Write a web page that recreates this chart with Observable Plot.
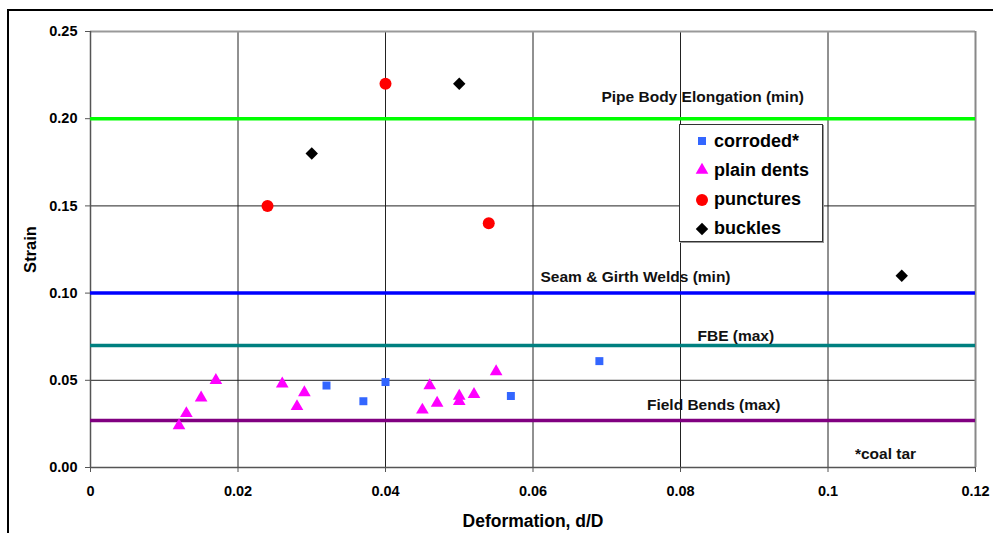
<!DOCTYPE html>
<html>
<head>
<meta charset="utf-8">
<script src="https://cdn.jsdelivr.net/npm/d3@7"></script>
<script src="https://cdn.jsdelivr.net/npm/@observablehq/plot@0.6"></script>
<style>
  html, body { margin: 0; padding: 0; background: #fff; }
  #wrap { position: relative; width: 993px; height: 533px; font-family: "Liberation Sans", Arial, sans-serif; }
  #frame { position: absolute; left: 7px; top: 9px; right: 0; bottom: 0; border-left: 2px solid #000; border-top: 2px solid #000; pointer-events: none; }
  #legend { position: absolute; left: 679px; top: 124px; width: 142px; height: 116px; border: 1px solid #333; background: #fff; box-shadow: 1px 1px 0 #999; }
  .item { position: absolute; left: 0; height: 24px; display: flex; align-items: center; font-weight: bold; font-size: 18px; color: #000; }
  .item svg { width: 16px; height: 16px; margin-left: 14px; margin-right: 4px; }
</style>
</head>
<body>
<div id="wrap">
  <div id="chart"></div>
  <div id="frame"></div>
  <div id="legend"></div>
</div>
<script>
// ---- data ----
const seriesNames = ["corroded*", "plain dents", "punctures", "buckles"];
const seriesColors = ["#3366FF", "#FF00FF", "#FF0000", "#000000"];
const seriesSymbols = ["square", "triangle", "circle", "diamond2"];

const corrodedX = [0.032, 0.037, 0.040, 0.057, 0.069];
const corrodedY = [0.047, 0.038, 0.049, 0.041, 0.061];

const dentsX = [0.012, 0.013, 0.015, 0.017, 0.026, 0.028, 0.029, 0.045, 0.046, 0.047, 0.050, 0.050, 0.052, 0.055];
const dentsY = [0.024, 0.031, 0.040, 0.050, 0.048, 0.035, 0.043, 0.033, 0.047, 0.037, 0.041, 0.038, 0.042, 0.055];

const puncturesX = [0.024, 0.040, 0.054];
const puncturesY = [0.150, 0.220, 0.140];

const bucklesX = [0.030, 0.050, 0.110];
const bucklesY = [0.180, 0.220, 0.110];

const limitNames = ["Pipe Body Elongation (min)", "Seam & Girth Welds (min)", "FBE (max)", "Field Bends (max)"];
const limitValues = [0.20, 0.10, 0.07, 0.027];
const limitColors = ["#00FF00", "#0000FF", "#008080", "#800080"];

const xTicks = [0, 0.02, 0.04, 0.06, 0.08, 0.1, 0.12];
const xTickLabels = ["0", "0.02", "0.04", "0.06", "0.08", "0.1", "0.12"];
const yTicks = [0, 0.05, 0.10, 0.15, 0.20, 0.25];
const yTickLabels = ["0.00", "0.05", "0.10", "0.15", "0.20", "0.25"];

const note = "*coal tar";
const xTitle = "Deformation, d/D";
const yTitle = "Strain";

// ---- build tables ----
const seriesX = [corrodedX, dentsX, puncturesX, bucklesX];
const seriesY = [corrodedY, dentsY, puncturesY, bucklesY];
const points = seriesNames.flatMap((name, i) =>
  seriesX[i].map((x, j) => ({series: name, x, y: seriesY[i][j], sym: seriesSymbols[i], color: seriesColors[i]})));
const limits = limitNames.map((name, i) => ({name, value: limitValues[i], color: limitColors[i]}));

// annotation anchors (data space)
const labelAnchors = [
  {text: limitNames[0], x: 0.083, y: 0.2125},
  {text: limitNames[1], x: 0.0739, y: 0.1095},
  {text: limitNames[2], x: 0.0875, y: 0.0752},
  {text: limitNames[3], x: 0.0845, y: 0.0356},
  {text: note, x: 0.1078, y: 0.0080}
];

const font = '"Liberation Sans", Arial, sans-serif';
const sizeBySym = {square: 4.5, triangle: 4.7, circle: 6, diamond2: 5.6};

const chart = Plot.plot({
  width: 993,
  height: 533,
  marginLeft: 90,
  marginRight: 18,
  marginTop: 31,
  marginBottom: 66,
  style: {fontFamily: font, background: "transparent", overflow: "visible"},
  x: {domain: [0, 0.12]},
  y: {domain: [0, 0.25]},
  r: {type: "identity"},
  marks: [
    Plot.gridX(xTicks.slice(1, -1), {stroke: "#222", strokeOpacity: 1, strokeWidth: 1}),
    Plot.gridY(yTicks.slice(1, -1), {stroke: "#222", strokeOpacity: 1, strokeWidth: 1}),
    Plot.ruleY([0.25], {stroke: "#999", strokeWidth: 2}),
    Plot.ruleX([0.12], {stroke: "#888", strokeWidth: 2}),
    Plot.ruleX([0], {stroke: "#555", strokeWidth: 1.5}),
    Plot.ruleY([0], {stroke: "#555", strokeWidth: 1.5}),
    Plot.axisX(xTicks, {
      tickFormat: (d, i) => xTickLabels[i],
      tickSize: 5, tickPadding: 13, stroke: "#555",
      fontSize: 14.5, fontWeight: "bold", fill: "#000", label: null
    }),
    Plot.axisY(yTicks, {
      tickFormat: (d, i) => yTickLabels[i],
      tickSize: 5, tickPadding: 8, stroke: "#555",
      fontSize: 14.5, fontWeight: "bold", fill: "#000", label: null
    }),
    Plot.ruleY(limits, {y: "value", stroke: "color", strokeWidth: 3.5}),
    Plot.text(labelAnchors, {x: "x", y: "y", text: "text", fontSize: 15.5, fontWeight: "bold", fill: "#111", textAnchor: "middle"}),
    Plot.dot(points, {
      x: "x", y: "y", symbol: "sym", fill: "color", stroke: "none",
      r: d => sizeBySym[d.sym]
    }),
    Plot.text([yTitle], {frameAnchor: "left", dx: -60, rotate: -90, fontSize: 16.5, fontWeight: "bold", fill: "#000", textAnchor: "middle"}),
    Plot.text([xTitle], {frameAnchor: "bottom", dy: 59, fontSize: 17.5, fontWeight: "bold", fill: "#000", textAnchor: "middle"})
  ]
});
document.getElementById("chart").appendChild(chart);

// legend
const legend = document.getElementById("legend");
const symPaths = seriesSymbols.map(s => {
  const sym = {square: d3.symbolSquare, triangle: d3.symbolTriangle, circle: d3.symbolCircle, diamond2: d3.symbolDiamond2}[s];
  const r = sizeBySym[s];
  return d3.symbol(sym, r * r * Math.PI)();
});
seriesNames.forEach((name, i) => {
  const div = document.createElement("div");
  div.className = "item";
  div.style.top = (4 + i * 29.3) + "px";
  div.innerHTML = `<svg viewBox="-8 -8 16 16"><path d="${symPaths[i]}" fill="${seriesColors[i]}"></path></svg>`;
  const span = document.createElement("span");
  span.textContent = name;
  div.appendChild(span);
  legend.appendChild(div);
});
</script>
</body>
</html>
